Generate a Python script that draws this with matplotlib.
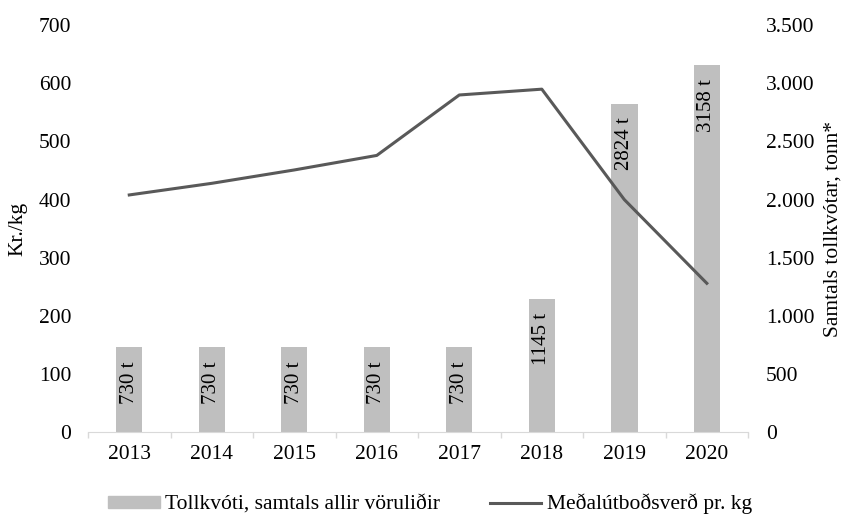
import matplotlib.pyplot as plt
import matplotlib.ticker as mticker
from matplotlib.patches import Patch
from matplotlib.lines import Line2D

# data
years = ['2013', '2014', '2015', '2016', '2017', '2018', '2019', '2020']
quota_tonnes = [730, 730, 730, 730, 730, 1145, 2824, 3158]
price_per_kg = [408, 428, 451, 476, 580, 590, 400, 256]

plt.rcParams['font.family'] = ['Liberation Serif', 'DejaVu Serif']
plt.rcParams['font.size'] = 15.5

fig = plt.figure(figsize=(8.43, 5.15), dpi=100)
ax = fig.add_axes([0.1044, 0.161, 0.783, 0.790])
ax2 = ax.twinx()

x = list(range(len(years)))

# bars on the right axis
ax2.bar(x, quota_tonnes, width=0.32, color='#bfbfbf', zorder=1)
for xi, v in zip(x, quota_tonnes):
    ax2.annotate(f'{v} t', (xi, v), xytext=(0, -10), textcoords='offset points',
                 rotation=90, ha='center', va='top', fontsize=15)

# line on the left axis, drawn above the bars
ax.set_zorder(ax2.get_zorder() + 1)
ax.patch.set_visible(False)
ax.plot(x, price_per_kg, color='#595959', linewidth=2.2)

ax.set_xlim(-0.5, 7.5)
ax.set_ylim(0, 700)
ax2.set_ylim(0, 3500)
ax.set_yticks(range(0, 701, 100))
ax2.set_yticks(range(0, 3501, 500))
ax2.yaxis.set_major_formatter(mticker.FuncFormatter(lambda v, p: f'{int(v):,}'.replace(',', '.')))

ax.set_xticks(x)
ax.set_xticklabels(years)
ax.set_xticks([i - 0.5 for i in range(len(years) + 1)], minor=True)
ax.tick_params(axis='x', which='major', length=0, pad=9)
ax.tick_params(axis='x', which='minor', length=4.3, width=1, color='#d9d9d9')
ax.tick_params(axis='y', length=0, pad=12)
ax2.tick_params(axis='y', length=0, pad=13)

for a in (ax, ax2):
    for s in ['top', 'left', 'right', 'bottom']:
        a.spines[s].set_visible(False)
ax.spines['bottom'].set_visible(True)
ax.spines['bottom'].set_color('#d9d9d9')

ax.set_ylabel('Kr./kg')
ax.yaxis.set_label_coords(-0.092, 0.5)
ax2.set_ylabel('Samtals tollkvótar, tonn*')
ax2.yaxis.set_label_coords(1.115, 0.5)

handles = [Patch(color='#bfbfbf'), Line2D([0], [0], color='#595959', linewidth=2.2)]
labels = ['Tollkvóti, samtals allir vöruliðir', 'Meðalútboðsverð pr. kg']
fig.legend(handles, labels, loc='center', bbox_to_anchor=(0.51, 0.021), ncol=2,
           frameon=False, handlelength=2.4, handleheight=0.5,
           columnspacing=2.3, handletextpad=0.25)

fig.savefig('out.png', dpi=100)
